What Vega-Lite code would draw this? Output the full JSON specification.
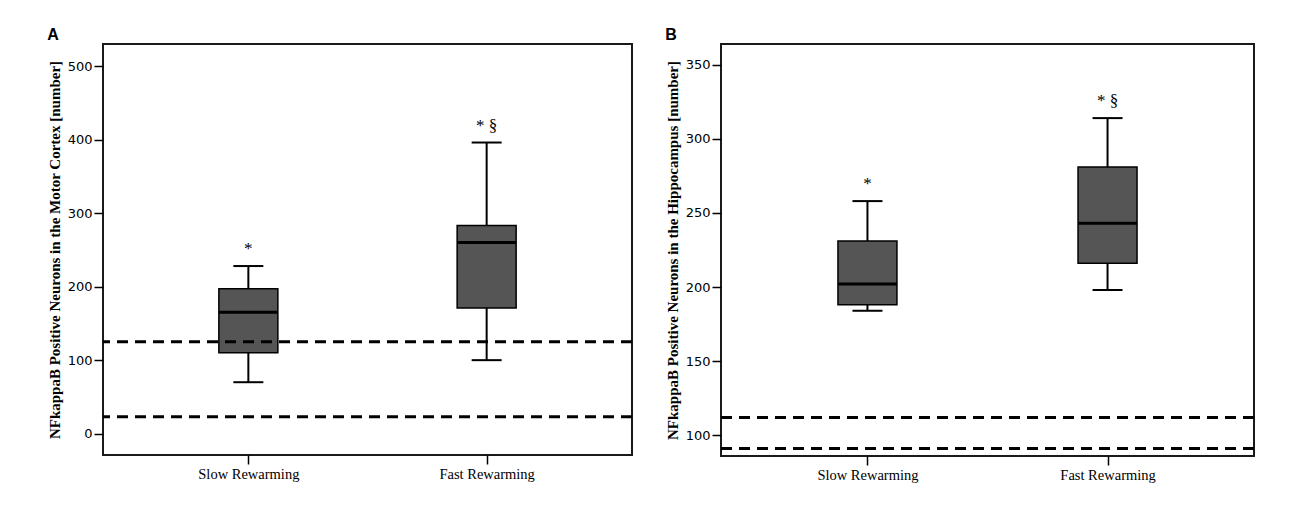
{
  "$schema": "https://vega.github.io/schema/vega-lite/v6.json",
  "padding": {"left": 46, "top": 26, "right": 5, "bottom": 5},
  "spacing": 29,
  "background": "white",
  "datasets": {
    "A": [
      {"group": "Slow Rewarming", "low": 70, "q1": 110, "median": 165, "q3": 197, "high": 228, "label": "*"},
      {"group": "Fast Rewarming", "low": 100, "q1": 171, "median": 260, "q3": 283, "high": 396, "label": "* §"}
    ],
    "B": [
      {"group": "Slow Rewarming", "low": 184, "q1": 188, "median": 202, "q3": 231, "high": 258, "label": "*"},
      {"group": "Fast Rewarming", "low": 198, "q1": 216, "median": 243, "q3": 281, "high": 314, "label": "* §"}
    ],
    "linesA": [{"v": 125}, {"v": 23}],
    "linesB": [{"v": 112}, {"v": 91}]
  },
  "config": {
    "view": {"stroke": "#1a1a1a", "strokeWidth": 2},
    "axis": {"grid": false, "domain": false, "tickColor": "black", "tickWidth": 1.5, "tickSize": 9, "labelColor": "black", "titleColor": "black"},
    "axisY": {"labelFont": "DejaVu Sans", "labelFontSize": 13, "labelPadding": 2, "titleFont": "Liberation Serif", "titleFontSize": 15, "titleFontWeight": "bold", "titlePadding": 5},
    "axisX": {"labelFont": "Liberation Serif", "labelFontSize": 14.5, "labelPadding": 3, "labelAngle": 0, "title": null},
    "title": {"font": "Liberation Sans", "fontSize": 16, "fontWeight": "bold", "color": "black", "anchor": "start", "frame": "bounds", "offset": 1}
  },
  "hconcat": [
    {
      "width": 529,
      "height": 411,
      "title": "A",
      "layer": [
        {
          "data": {"name": "A"},
          "encoding": {
            "x": {"field": "group", "type": "nominal", "sort": ["Slow Rewarming", "Fast Rewarming"], "scale": {"type": "point", "padding": 0.61}, "axis": {"title": null}}
          },
          "layer": [
            {"mark": {"type": "rule", "strokeWidth": 2, "color": "black"},
             "encoding": {"y": {"field": "low", "type": "quantitative", "scale": {"domain": [-29, 530], "nice": false, "zero": false}, "axis": {"values": [0, 100, 200, 300, 400, 500], "title": "NFkappaB Positive Neurons in the Motor Cortex [number]"}}, "y2": {"field": "high"}}},
            {"mark": {"type": "bar", "width": 59, "fill": "#555555", "stroke": "black", "strokeWidth": 1.5},
             "encoding": {"y": {"field": "q1", "type": "quantitative"}, "y2": {"field": "q3"}}},
            {"mark": {"type": "tick", "size": 59, "thickness": 3, "color": "black", "opacity": 1},
             "encoding": {"y": {"field": "median", "type": "quantitative"}}},
            {"mark": {"type": "tick", "size": 30, "thickness": 2, "color": "black", "opacity": 1},
             "encoding": {"y": {"field": "low", "type": "quantitative"}}},
            {"mark": {"type": "tick", "size": 30, "thickness": 2, "color": "black", "opacity": 1},
             "encoding": {"y": {"field": "high", "type": "quantitative"}}},
            {"mark": {"type": "text", "font": "Liberation Serif", "fontSize": 17, "baseline": "middle", "dy": -17, "color": "black"},
             "encoding": {"y": {"field": "high", "type": "quantitative"}, "text": {"field": "label"}}}
          ]
        },
        {
          "data": {"name": "linesA"},
          "mark": {"type": "rule", "strokeDash": [11, 7], "strokeWidth": 3, "color": "black"},
          "encoding": {"y": {"field": "v", "type": "quantitative"}}
        }
      ]
    },
    {
      "width": 533,
      "height": 412,
      "title": "B",
      "layer": [
        {
          "data": {"name": "B"},
          "encoding": {
            "x": {"field": "group", "type": "nominal", "sort": ["Slow Rewarming", "Fast Rewarming"], "scale": {"type": "point", "padding": 0.61}, "axis": {"title": null}}
          },
          "layer": [
            {"mark": {"type": "rule", "strokeWidth": 2, "color": "black"},
             "encoding": {"y": {"field": "low", "type": "quantitative", "scale": {"domain": [86, 364], "nice": false, "zero": false}, "axis": {"values": [100, 150, 200, 250, 300, 350], "title": "NFkappaB Positive Neurons in the Hippocampus [number]"}}, "y2": {"field": "high"}}},
            {"mark": {"type": "bar", "width": 59, "fill": "#555555", "stroke": "black", "strokeWidth": 1.5},
             "encoding": {"y": {"field": "q1", "type": "quantitative"}, "y2": {"field": "q3"}}},
            {"mark": {"type": "tick", "size": 59, "thickness": 3, "color": "black", "opacity": 1},
             "encoding": {"y": {"field": "median", "type": "quantitative"}}},
            {"mark": {"type": "tick", "size": 30, "thickness": 2, "color": "black", "opacity": 1},
             "encoding": {"y": {"field": "low", "type": "quantitative"}}},
            {"mark": {"type": "tick", "size": 30, "thickness": 2, "color": "black", "opacity": 1},
             "encoding": {"y": {"field": "high", "type": "quantitative"}}},
            {"mark": {"type": "text", "font": "Liberation Serif", "fontSize": 17, "baseline": "middle", "dy": -17, "color": "black"},
             "encoding": {"y": {"field": "high", "type": "quantitative"}, "text": {"field": "label"}}}
          ]
        },
        {
          "data": {"name": "linesB"},
          "mark": {"type": "rule", "strokeDash": [11, 7], "strokeWidth": 3, "color": "black"},
          "encoding": {"y": {"field": "v", "type": "quantitative"}}
        }
      ]
    }
  ]
}
